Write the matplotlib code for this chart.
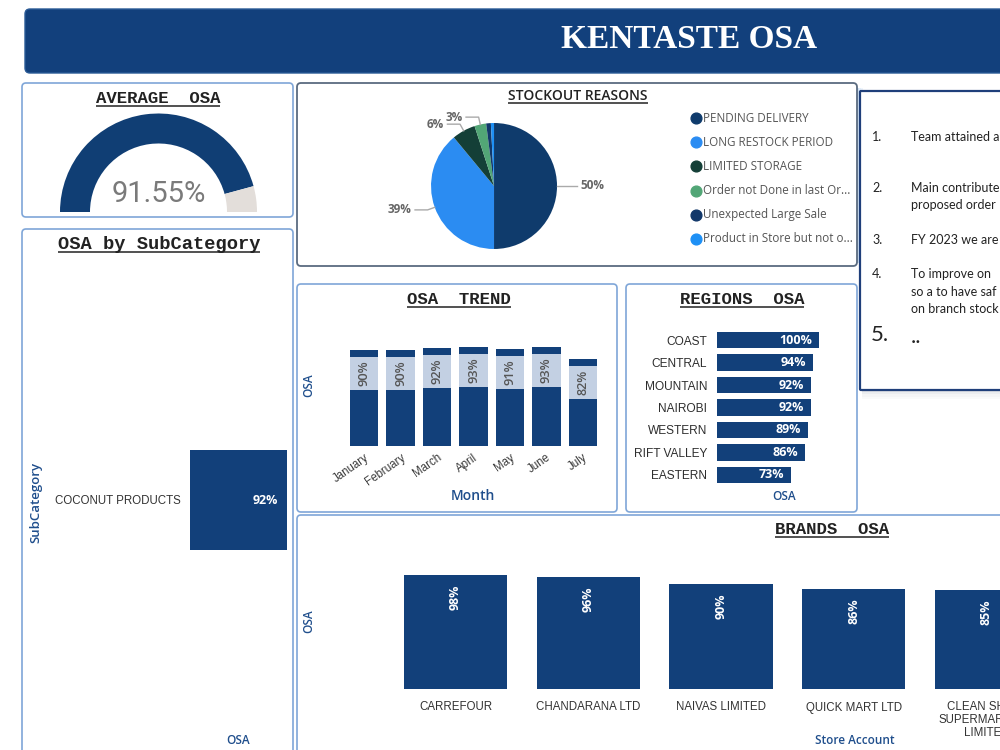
import matplotlib
matplotlib.use("Agg")
import matplotlib.pyplot as plt
from matplotlib.patches import FancyBboxPatch, Wedge, Rectangle
import numpy as np

# ---------------- data ----------------
avg_osa = 0.9155

subcategories = ["COCONUT PRODUCTS"]
subcategory_osa = [0.92]

stockout_reasons = ["PENDING DELIVERY", "LONG RESTOCK PERIOD", "LIMITED STORAGE",
                    "Order not Done in last Or...", "Unexpected Large Sale",
                    "Product in Store but not o..."]
stockout_share = [50.0, 39.0, 6.0, 3.0, 1.2, 0.8]
stockout_colors = ["#0F3B6C", "#2B8CF2", "#143F37", "#52A676", "#12386A", "#1E90F5"]

months = ["January", "February", "March", "April", "May", "June", "July"]
month_osa = [0.90, 0.90, 0.92, 0.93, 0.91, 0.93, 0.82]

regions = ["COAST", "CENTRAL", "MOUNTAIN", "NAIROBI", "WESTERN", "RIFT VALLEY", "EASTERN"]
region_osa = [1.00, 0.94, 0.92, 0.92, 0.89, 0.86, 0.73]

stores = ["CARREFOUR", "CHANDARANA LTD", "NAIVAS LIMITED", "QUICK MART LTD",
          "CLEAN SHELF\nSUPERMARKETS\nLIMITED"]
store_osa = [0.98, 0.96, 0.90, 0.86, 0.85]

note_numbers = ["1.", "2.", "3.", "4."]
note_lines = [["Team attained a"],
              ["Main contribute", "proposed order"],
              ["FY 2023 we are"],
              ["To improve on", "so a to have saf", "on branch stock"]]

# ---------------- styling ----------------
NAVY = "#12407A"
LABEL_BLUE = "#1F4E8C"
BORDER = "#7FA6D8"
W, H = 1000, 750

fig = plt.figure(figsize=(10, 7.5), dpi=100)
fig.patch.set_facecolor("white")

ax_bg = fig.add_axes([0, 0, 1, 1], zorder=0)
ax_bg.set_xlim(0, W)
ax_bg.set_ylim(H, 0)
ax_bg.axis("off")


def add_ax(x0, y0, x1, y1, z=2):
    a = fig.add_axes([x0 / W, 1 - y1 / H, (x1 - x0) / W, (y1 - y0) / H], zorder=z)
    a.set_facecolor("none")
    for s in a.spines.values():
        s.set_visible(False)
    a.tick_params(length=0)
    return a


def panel(x0, y0, x1, y1, ec=BORDER, lw=1.2, fc="white", pad=4, z=1):
    p = FancyBboxPatch((x0 + pad, y0 + pad), (x1 - x0) - 2 * pad, (y1 - y0) - 2 * pad,
                       boxstyle=f"round,pad={pad}", fc=fc, ec=ec, lw=lw, zorder=z)
    ax_bg.add_patch(p)
    return p


# banner
ax_bg.add_patch(FancyBboxPatch((30, 14), 1000, 54, boxstyle="round,pad=5",
                               fc="#12407C", ec="#2A5A96", lw=1, zorder=1))
ax_bg.text(689, 39, "KENTASTE OSA", family="Liberation Serif", weight="bold",
           fontsize=24, color="white", ha="center", va="center", zorder=3)

# glow / shadows
for i, a in enumerate([0.25, 0.15, 0.08]):
    ax_bg.add_patch(Rectangle((857 + i * 2, 88), 2, 175, fc="#3C8BE0", alpha=a, ec="none", zorder=0.5))
for i, a in enumerate([0.25, 0.15, 0.08, 0.04]):
    ax_bg.add_patch(Rectangle((862, 389 + i * 2.5), 150, 2.5, fc="#7C8794", alpha=a, ec="none", zorder=0.5))

# panels
panel(22, 83, 293, 217)
panel(22, 229, 293, 770)
panel(297, 83, 857, 266, ec="#5A6B80", lw=1.3)
panel(297, 284, 617, 512)
panel(626, 284, 857, 512)
panel(297, 515, 1020, 770)
panel(860, 91, 1020, 390, ec="#1F3F7A", lw=1.6, pad=1)

# titles (mono, underlined)
titles = []
def title(x, y, s, fs=12.5, family="Liberation Mono", weight="bold"):
    t = ax_bg.text(x, y, s, family=family, weight=weight, fontsize=fs, color="#222222",
                   ha="center", va="baseline", zorder=3)
    titles.append((t, y))
    return t

title(158, 103, "AVERAGE  OSA")
title(159, 249, "OSA by SubCategory", fs=13.5)
title(578, 100, "STOCKOUT REASONS", fs=10, family="Open Sans", weight="semibold")
title(459, 304, "OSA  TREND")
title(742, 304, "REGIONS  OSA")
title(832, 534, "BRANDS  OSA")

# ---------------- gauge ----------------
axg = add_ax(50, 105, 270, 215)
axg.set_xlim(-108.5, 111.5)
axg.set_ylim(-3, 107)
axg.axis("off")
R, Wd = 98.5, 30
split = 180 * (1 - avg_osa)
axg.add_patch(Wedge((0, 0), R, split, 180, width=Wd, fc="#103E74", ec="none"))
axg.add_patch(Wedge((0, 0), R, 0, split, width=Wd, fc="#E3DEDA", ec="none"))
axg.text(0, 18, f"{avg_osa * 100:.2f}%", family="Roboto", weight="normal", fontsize=21,
         color="#7A7A7A", ha="center", va="center")

# ---------------- subcategory ----------------
axs = add_ax(190, 260, 295, 740)
ys = np.arange(len(subcategories))
axs.barh(ys, subcategory_osa, height=1.0, color=NAVY)
axs.set_xlim(0, 1.0)
axs.set_ylim(-2.424, 2.424)
axs.set_xticks([])
axs.set_yticks(ys)
axs.set_yticklabels(subcategories, fontsize=8.3, color="#333333", family="Liberation Sans")
axs.tick_params(axis="y", pad=7)
for y, v in zip(ys, subcategory_osa):
    axs.annotate(f"{v * 100:.0f}%", (v, y), xytext=(-6, 0), textcoords="offset points",
                 ha="right", va="center", color="white", weight="bold", fontsize=9,
                 family="Open Sans")
ax_bg.text(36, 502, "SubCategory", rotation=90, ha="center", va="center", fontsize=9.5,
           color=LABEL_BLUE, family="Open Sans", weight="semibold", zorder=3)
ax_bg.text(238, 741, "OSA", ha="center", va="center", fontsize=8.5,
           color=LABEL_BLUE, family="Open Sans", weight="semibold", zorder=3)

# ---------------- pie ----------------
axp = add_ax(380, 100, 610, 265)
wedges, _ = axp.pie(stockout_share, colors=stockout_colors, startangle=90, counterclock=False,
                    radius=1.0, wedgeprops=dict(edgecolor="none"))
axp.set_xlim(-1.810, 1.841)
axp.set_ylim(-1.254, 1.365)
axp.set_aspect("auto")
for w, s in zip(wedges, stockout_share):
    if s < 2:
        continue
    th = np.deg2rad((w.theta1 + w.theta2) / 2)
    c, sn = np.cos(th), np.sin(th)
    p0 = (c * 1.0, sn * 1.0)
    p1 = (c * 1.12, sn * 1.12)
    d = 1 if c >= 0 else -1
    p2 = (p1[0] + d * 0.2, p1[1])
    axp.plot([p0[0], p1[0], p2[0]], [p0[1], p1[1], p2[1]], color="#AAAAAA", lw=1)
    axp.text(p2[0] + d * 0.05, p2[1], f"{s:.0f}%", ha="left" if d > 0 else "right",
             va="center", fontsize=8.5, color="#666666", weight="bold", family="Open Sans")

# legend
for i, (lab, col) in enumerate(zip(stockout_reasons, stockout_colors)):
    y = 118 + i * 24.2
    ax_bg.scatter([696], [y], s=60, color=col, zorder=3)
    ax_bg.text(703, y, lab, fontsize=8.4, color="#555555", va="center", ha="left",
               family="Open Sans", zorder=3)

# ---------------- trend ----------------
axt = add_ax(340, 330, 607, 446)
xs = np.arange(len(months))
axt.bar(xs, month_osa, width=0.78, color=NAVY)
axt.set_xlim(-0.66, 6.66)
axt.set_ylim(0, 1.089)
axt.set_yticks([])
axt.set_xticks(xs)
axt.set_xticklabels(months, rotation=35, ha="right", rotation_mode="anchor",
                    fontsize=8.3, color="#3A3A3A", family="Liberation Sans")
axt.tick_params(axis="x", pad=4)
ppu = 106.5  # px per unit
for x, v in zip(xs, month_osa):
    top = v - 7 / ppu
    axt.add_patch(Rectangle((x - 0.39, top - 33 / ppu), 0.78, 33 / ppu, fc="#C3D0E3", ec="none"))
    axt.text(x, top - 16.5 / ppu, f"{v * 100:.0f}%", rotation=90, ha="center", va="center",
             fontsize=9.2, color="#555555", family="Open Sans", weight="semibold")
ax_bg.text(309, 385, "OSA", rotation=90, ha="center", va="center", fontsize=8.5,
           color=LABEL_BLUE, family="Open Sans", weight="semibold", zorder=3)
ax_bg.text(473, 496, "Month", ha="center", va="center", fontsize=10,
           color=LABEL_BLUE, family="Open Sans", weight="semibold", zorder=3)

# ---------------- regions ----------------
axr = add_ax(717, 325, 845, 490)
yr = np.arange(len(regions))
axr.barh(yr, region_osa, height=0.755, color=NAVY)
axr.set_xlim(0, 1.255)
axr.set_ylim(6.667, -0.667)
axr.set_xticks([])
axr.set_yticks(yr)
axr.set_yticklabels(regions, fontsize=8.6, color="#2E2E2E", family="Liberation Sans")
axr.tick_params(axis="y", pad=7)
for y, v in zip(yr, region_osa):
    axr.annotate(f"{v * 100:.0f}%", (v, y), xytext=(-5, 0), textcoords="offset points",
                 ha="right", va="center", color="white", weight="bold", fontsize=9,
                 family="Open Sans")
ax_bg.text(784, 497, "OSA", ha="center", va="center", fontsize=8.5,
           color=LABEL_BLUE, family="Open Sans", weight="semibold", zorder=3)

# ---------------- brands ----------------
axb = add_ax(360, 560, 1066, 689)
xb = np.arange(len(stores))
axb.bar(xb, store_osa, width=0.78, color=NAVY)
axb.set_xlim(-0.72, 4.6)
axb.set_ylim(0, 1.107)
axb.set_yticks([])
axb.set_xticks(xb)
axb.set_xticklabels(stores, fontsize=8.3, color="#333333", family="Liberation Sans",
                    linespacing=1.1, va="top")
axb.tick_params(axis="x", pad=9)
for x, v in zip(xb, store_osa):
    axb.annotate(f"{v * 100:.0f}%", (x, v), xytext=(0, -16), textcoords="offset points",
                 rotation=90, ha="center", va="center", color="white", weight="bold",
                 fontsize=9, family="Open Sans")
ax_bg.text(309, 621, "OSA", rotation=90, ha="center", va="center", fontsize=8.5,
           color=LABEL_BLUE, family="Open Sans", weight="semibold", zorder=3)
ax_bg.text(855, 741, "Store Account", ha="center", va="center", fontsize=8.5,
           color=LABEL_BLUE, family="Open Sans", weight="semibold", zorder=3)

# ---------------- notes panel ----------------
note_y = [[137], [188, 205], [240], [274, 292, 309]]
for num, lines, yl in zip(note_numbers, note_lines, note_y):
    ax_bg.text(872, yl[0], num, fontsize=9, color="#222222", family="Lato", va="center", zorder=3)
    for ln, y in zip(lines, yl):
        ax_bg.text(911, y, ln, fontsize=9, color="#222222", family="Lato", va="center", zorder=3)
ax_bg.text(871, 335, "5.", fontsize=16, color="#222222", family="Lato", va="center", zorder=3)
ax_bg.text(911, 337, "..", fontsize=16, color="#222222", family="Lato", va="center", zorder=3)

# ---------------- underlines ----------------
fig.canvas.draw()
r = fig.canvas.get_renderer()
inv = ax_bg.transData.inverted()
for t, yb in titles:
    bb = t.get_window_extent(r)
    x0 = inv.transform((bb.x0, bb.y0))[0]
    x1 = inv.transform((bb.x1, bb.y0))[0]
    ax_bg.plot([x0, x1], [yb + 2.5, yb + 2.5], color="#222222", lw=1.1, zorder=3,
               solid_capstyle="butt")

fig.savefig("out.png", dpi=100, facecolor="white")
